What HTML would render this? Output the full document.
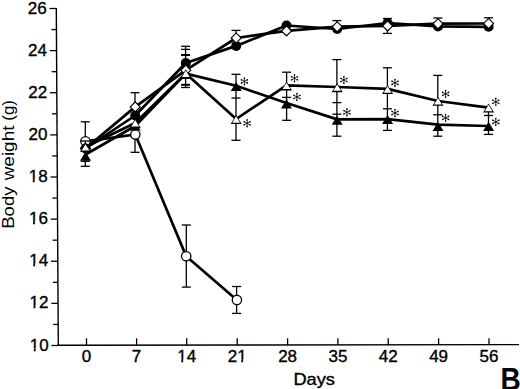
<!DOCTYPE html>
<html><head><meta charset="utf-8"><style>
html,body{margin:0;padding:0;background:#fff;}
body{width:520px;height:389px;overflow:hidden;}
svg{display:block;font-family:"Liberation Sans", sans-serif;}
text{fill:#000;stroke:#000;stroke-width:0.35px;}
text.b{stroke:none;}
</style></head><body>
<svg width="520" height="389" viewBox="0 0 520 389">
<rect width="520" height="389" fill="#fff"/>
<line x1="56.30" y1="7.9" x2="58.30" y2="346.1" stroke="#000" stroke-width="1.4"/>
<line x1="57.70" y1="345.3" x2="519" y2="344.6" stroke="#000" stroke-width="1.4"/>
<line x1="49.50" y1="8.50" x2="56.30" y2="8.50" stroke="#000" stroke-width="1.3"/>
<line x1="51.42" y1="29.56" x2="56.42" y2="29.56" stroke="#000" stroke-width="1.3"/>
<line x1="49.75" y1="50.62" x2="56.55" y2="50.62" stroke="#000" stroke-width="1.3"/>
<line x1="51.67" y1="71.69" x2="56.67" y2="71.69" stroke="#000" stroke-width="1.3"/>
<line x1="50.00" y1="92.75" x2="56.80" y2="92.75" stroke="#000" stroke-width="1.3"/>
<line x1="51.92" y1="113.81" x2="56.92" y2="113.81" stroke="#000" stroke-width="1.3"/>
<line x1="50.25" y1="134.88" x2="57.05" y2="134.88" stroke="#000" stroke-width="1.3"/>
<line x1="52.17" y1="155.94" x2="57.17" y2="155.94" stroke="#000" stroke-width="1.3"/>
<line x1="50.50" y1="177.00" x2="57.30" y2="177.00" stroke="#000" stroke-width="1.3"/>
<line x1="52.42" y1="198.06" x2="57.42" y2="198.06" stroke="#000" stroke-width="1.3"/>
<line x1="50.75" y1="219.12" x2="57.55" y2="219.12" stroke="#000" stroke-width="1.3"/>
<line x1="52.67" y1="240.19" x2="57.67" y2="240.19" stroke="#000" stroke-width="1.3"/>
<line x1="51.00" y1="261.25" x2="57.80" y2="261.25" stroke="#000" stroke-width="1.3"/>
<line x1="52.92" y1="282.31" x2="57.92" y2="282.31" stroke="#000" stroke-width="1.3"/>
<line x1="51.25" y1="303.38" x2="58.05" y2="303.38" stroke="#000" stroke-width="1.3"/>
<line x1="53.17" y1="324.44" x2="58.17" y2="324.44" stroke="#000" stroke-width="1.3"/>
<line x1="51.50" y1="345.50" x2="58.30" y2="345.50" stroke="#000" stroke-width="1.3"/>
<text x="48.60" y="350.60" text-anchor="end" font-size="17">10</text>
<rect x="30.09" y="348.00" width="3.65" height="3.9" fill="#fff"/>
<rect x="35.64" y="348.00" width="3.55" height="3.9" fill="#fff"/>
<text x="48.35" y="308.48" text-anchor="end" font-size="17">12</text>
<rect x="29.84" y="305.88" width="3.65" height="3.9" fill="#fff"/>
<rect x="35.39" y="305.88" width="3.55" height="3.9" fill="#fff"/>
<text x="48.10" y="266.35" text-anchor="end" font-size="17">14</text>
<rect x="29.59" y="263.75" width="3.65" height="3.9" fill="#fff"/>
<rect x="35.14" y="263.75" width="3.55" height="3.9" fill="#fff"/>
<text x="47.85" y="224.22" text-anchor="end" font-size="17">16</text>
<rect x="29.34" y="221.62" width="3.65" height="3.9" fill="#fff"/>
<rect x="34.89" y="221.62" width="3.55" height="3.9" fill="#fff"/>
<text x="47.60" y="182.10" text-anchor="end" font-size="17">18</text>
<rect x="29.09" y="179.50" width="3.65" height="3.9" fill="#fff"/>
<rect x="34.64" y="179.50" width="3.55" height="3.9" fill="#fff"/>
<text x="47.35" y="139.97" text-anchor="end" font-size="17">20</text>
<text x="47.10" y="97.85" text-anchor="end" font-size="17">22</text>
<text x="46.85" y="55.73" text-anchor="end" font-size="17">24</text>
<text x="46.60" y="13.60" text-anchor="end" font-size="17">26</text>
<line x1="86.50" y1="338.3" x2="86.50" y2="345" stroke="#000" stroke-width="1.3"/>
<text x="86.50" y="362.0" text-anchor="middle" font-size="17">0</text>
<line x1="136.60" y1="338.3" x2="136.60" y2="345" stroke="#000" stroke-width="1.3"/>
<text x="136.60" y="362.0" text-anchor="middle" font-size="17">7</text>
<line x1="186.70" y1="338.3" x2="186.70" y2="345" stroke="#000" stroke-width="1.3"/>
<text x="186.70" y="362.0" text-anchor="middle" font-size="17">14</text>
<rect x="177.65" y="359.40" width="3.65" height="3.9" fill="#fff"/>
<rect x="183.20" y="359.40" width="3.55" height="3.9" fill="#fff"/>
<line x1="237.20" y1="338.3" x2="237.20" y2="345" stroke="#000" stroke-width="1.3"/>
<text x="237.20" y="362.0" text-anchor="middle" font-size="17">21</text>
<rect x="237.60" y="359.40" width="3.65" height="3.9" fill="#fff"/>
<rect x="243.15" y="359.40" width="3.55" height="3.9" fill="#fff"/>
<line x1="287.60" y1="338.3" x2="287.60" y2="345" stroke="#000" stroke-width="1.3"/>
<text x="287.60" y="362.0" text-anchor="middle" font-size="17">28</text>
<line x1="337.90" y1="338.3" x2="337.90" y2="345" stroke="#000" stroke-width="1.3"/>
<text x="337.90" y="362.0" text-anchor="middle" font-size="17">35</text>
<line x1="388.20" y1="338.3" x2="388.20" y2="345" stroke="#000" stroke-width="1.3"/>
<text x="388.20" y="362.0" text-anchor="middle" font-size="17">42</text>
<line x1="438.60" y1="338.3" x2="438.60" y2="345" stroke="#000" stroke-width="1.3"/>
<text x="438.60" y="362.0" text-anchor="middle" font-size="17">49</text>
<line x1="489.00" y1="338.3" x2="489.00" y2="345" stroke="#000" stroke-width="1.3"/>
<text x="489.00" y="362.0" text-anchor="middle" font-size="17">56</text>
<text transform="translate(314.2,384.9) scale(1.1375,1)" text-anchor="middle" font-size="16">Days</text>
<text transform="translate(14.3,207.65) rotate(-90) scale(1.124,1)" text-anchor="middle" font-size="16.5" class="b">Body</text>
<text transform="translate(14.3,152.95) rotate(-90) scale(1.149,1)" text-anchor="middle" font-size="16.5" class="b">weight</text>
<text transform="translate(14.3,110.4) rotate(-90) scale(1.03,1)" text-anchor="middle" font-size="16.5" class="b">(g)</text>
<text transform="translate(520.6,390.3) scale(0.875,1)" text-anchor="end" font-size="32" font-weight="bold" class="b">B</text>
<polyline points="85.50,148.50 135.20,115.50 185.80,63.00 236.20,45.90 286.50,25.50 337.20,29.00 387.60,23.00 438.00,26.40 488.60,26.80" fill="none" stroke="#000" stroke-width="2.7" stroke-linejoin="round"/>
<polyline points="85.50,148.50 135.20,106.90 185.80,70.20 236.20,38.00 286.50,30.90 337.20,26.70 387.60,25.90 438.00,23.70 488.60,23.50" fill="none" stroke="#000" stroke-width="2.7" stroke-linejoin="round"/>
<polyline points="85.40,141.30 135.30,134.50 186.20,256.30 236.90,299.90" fill="none" stroke="#000" stroke-width="2.7" stroke-linejoin="round"/>
<polyline points="85.50,147.00 135.20,123.00 185.80,73.50 236.20,119.00 286.50,85.30 337.20,87.00 387.60,88.90 438.00,101.00 488.60,107.70" fill="none" stroke="#000" stroke-width="2.7" stroke-linejoin="round"/>
<polyline points="85.50,154.50 135.20,126.00 185.80,73.60 236.20,85.80 286.50,103.00 337.20,119.40 387.60,119.10 438.00,124.60 488.60,126.00" fill="none" stroke="#000" stroke-width="2.7" stroke-linejoin="round"/>
<line x1="85.30" y1="121.80" x2="85.30" y2="166.30" stroke="#000" stroke-width="1.3"/>
<line x1="80.80" y1="121.80" x2="89.80" y2="121.80" stroke="#000" stroke-width="1.3"/>
<line x1="80.80" y1="161.30" x2="89.80" y2="161.30" stroke="#000" stroke-width="1.3"/>
<line x1="80.80" y1="166.30" x2="89.80" y2="166.30" stroke="#000" stroke-width="1.3"/>
<line x1="135.00" y1="92.70" x2="135.00" y2="152.30" stroke="#000" stroke-width="1.3"/>
<line x1="130.50" y1="92.70" x2="139.50" y2="92.70" stroke="#000" stroke-width="1.3"/>
<line x1="130.50" y1="152.30" x2="139.50" y2="152.30" stroke="#000" stroke-width="1.3"/>
<line x1="185.60" y1="46.30" x2="185.60" y2="87.50" stroke="#000" stroke-width="1.3"/>
<line x1="181.10" y1="46.30" x2="190.10" y2="46.30" stroke="#000" stroke-width="1.3"/>
<line x1="181.10" y1="49.40" x2="190.10" y2="49.40" stroke="#000" stroke-width="1.3"/>
<line x1="181.10" y1="54.60" x2="190.10" y2="54.60" stroke="#000" stroke-width="1.3"/>
<line x1="181.10" y1="55.40" x2="190.10" y2="55.40" stroke="#000" stroke-width="1.3"/>
<line x1="181.10" y1="84.40" x2="190.10" y2="84.40" stroke="#000" stroke-width="1.3"/>
<line x1="181.10" y1="85.20" x2="190.10" y2="85.20" stroke="#000" stroke-width="1.3"/>
<line x1="181.10" y1="87.50" x2="190.10" y2="87.50" stroke="#000" stroke-width="1.3"/>
<line x1="236.00" y1="30.40" x2="236.00" y2="38.00" stroke="#000" stroke-width="1.3"/>
<line x1="231.50" y1="30.40" x2="240.50" y2="30.40" stroke="#000" stroke-width="1.3"/>
<line x1="236.00" y1="74.30" x2="236.00" y2="140.30" stroke="#000" stroke-width="1.3"/>
<line x1="231.50" y1="74.30" x2="240.50" y2="74.30" stroke="#000" stroke-width="1.3"/>
<line x1="231.50" y1="98.00" x2="240.50" y2="98.00" stroke="#000" stroke-width="1.3"/>
<line x1="231.50" y1="140.30" x2="240.50" y2="140.30" stroke="#000" stroke-width="1.3"/>
<line x1="186.30" y1="225.00" x2="186.30" y2="287.10" stroke="#000" stroke-width="1.3"/>
<line x1="181.80" y1="225.00" x2="190.80" y2="225.00" stroke="#000" stroke-width="1.3"/>
<line x1="181.80" y1="287.10" x2="190.80" y2="287.10" stroke="#000" stroke-width="1.3"/>
<line x1="236.60" y1="286.50" x2="236.60" y2="313.40" stroke="#000" stroke-width="1.3"/>
<line x1="232.10" y1="286.50" x2="241.10" y2="286.50" stroke="#000" stroke-width="1.3"/>
<line x1="232.10" y1="313.40" x2="241.10" y2="313.40" stroke="#000" stroke-width="1.3"/>
<line x1="286.60" y1="72.20" x2="286.60" y2="120.30" stroke="#000" stroke-width="1.3"/>
<line x1="282.10" y1="72.20" x2="291.10" y2="72.20" stroke="#000" stroke-width="1.3"/>
<line x1="282.10" y1="97.40" x2="291.10" y2="97.40" stroke="#000" stroke-width="1.3"/>
<line x1="282.10" y1="120.30" x2="291.10" y2="120.30" stroke="#000" stroke-width="1.3"/>
<line x1="336.90" y1="20.60" x2="336.90" y2="27.00" stroke="#000" stroke-width="1.3"/>
<line x1="332.40" y1="20.60" x2="341.40" y2="20.60" stroke="#000" stroke-width="1.3"/>
<line x1="336.90" y1="59.60" x2="336.90" y2="136.20" stroke="#000" stroke-width="1.3"/>
<line x1="332.40" y1="59.60" x2="341.40" y2="59.60" stroke="#000" stroke-width="1.3"/>
<line x1="332.40" y1="102.60" x2="341.40" y2="102.60" stroke="#000" stroke-width="1.3"/>
<line x1="332.40" y1="114.20" x2="341.40" y2="114.20" stroke="#000" stroke-width="1.3"/>
<line x1="332.40" y1="136.20" x2="341.40" y2="136.20" stroke="#000" stroke-width="1.3"/>
<line x1="387.40" y1="18.50" x2="387.40" y2="33.40" stroke="#000" stroke-width="1.3"/>
<line x1="382.90" y1="18.50" x2="391.90" y2="18.50" stroke="#000" stroke-width="1.3"/>
<line x1="382.90" y1="33.40" x2="391.90" y2="33.40" stroke="#000" stroke-width="1.3"/>
<line x1="387.40" y1="67.80" x2="387.40" y2="130.40" stroke="#000" stroke-width="1.3"/>
<line x1="382.90" y1="67.80" x2="391.90" y2="67.80" stroke="#000" stroke-width="1.3"/>
<line x1="382.90" y1="108.80" x2="391.90" y2="108.80" stroke="#000" stroke-width="1.3"/>
<line x1="382.90" y1="130.40" x2="391.90" y2="130.40" stroke="#000" stroke-width="1.3"/>
<line x1="437.90" y1="18.00" x2="437.90" y2="27.00" stroke="#000" stroke-width="1.3"/>
<line x1="433.40" y1="18.00" x2="442.40" y2="18.00" stroke="#000" stroke-width="1.3"/>
<line x1="437.80" y1="75.40" x2="437.80" y2="136.20" stroke="#000" stroke-width="1.3"/>
<line x1="433.30" y1="75.40" x2="442.30" y2="75.40" stroke="#000" stroke-width="1.3"/>
<line x1="433.30" y1="114.80" x2="442.30" y2="114.80" stroke="#000" stroke-width="1.3"/>
<line x1="433.30" y1="136.20" x2="442.30" y2="136.20" stroke="#000" stroke-width="1.3"/>
<line x1="488.60" y1="17.80" x2="488.60" y2="27.00" stroke="#000" stroke-width="1.3"/>
<line x1="484.10" y1="17.80" x2="493.10" y2="17.80" stroke="#000" stroke-width="1.3"/>
<line x1="488.50" y1="108.00" x2="488.50" y2="134.40" stroke="#000" stroke-width="1.3"/>
<line x1="484.00" y1="115.50" x2="493.00" y2="115.50" stroke="#000" stroke-width="1.3"/>
<line x1="484.00" y1="134.40" x2="493.00" y2="134.40" stroke="#000" stroke-width="1.3"/>
<circle cx="85.40" cy="141.30" r="5.3" fill="#000"/><circle cx="85.40" cy="141.30" r="4.0" fill="#fff"/>
<circle cx="135.30" cy="134.50" r="5.3" fill="#000"/><circle cx="135.30" cy="134.50" r="4.0" fill="#fff"/>
<circle cx="186.20" cy="256.30" r="5.3" fill="#000"/><circle cx="186.20" cy="256.30" r="4.0" fill="#fff"/>
<circle cx="236.90" cy="299.90" r="5.3" fill="#000"/><circle cx="236.90" cy="299.90" r="4.0" fill="#fff"/>
<path d="M85.50,142.70 L91.30,148.50 L85.50,154.30 L79.70,148.50 Z" fill="#000"/><path d="M85.50,144.30 L89.70,148.50 L85.50,152.70 L81.30,148.50 Z" fill="#fff"/>
<circle cx="85.50" cy="148.50" r="5.0" fill="#000"/>
<circle cx="135.20" cy="115.50" r="5.0" fill="#000"/>
<circle cx="185.80" cy="63.00" r="5.0" fill="#000"/>
<circle cx="236.20" cy="45.90" r="5.0" fill="#000"/>
<circle cx="286.50" cy="25.50" r="5.0" fill="#000"/>
<circle cx="337.20" cy="29.00" r="5.0" fill="#000"/>
<circle cx="387.60" cy="23.00" r="5.0" fill="#000"/>
<circle cx="438.00" cy="26.40" r="5.0" fill="#000"/>
<circle cx="488.60" cy="26.80" r="5.0" fill="#000"/>
<path d="M135.20,101.10 L141.00,106.90 L135.20,112.70 L129.40,106.90 Z" fill="#000"/><path d="M135.20,102.70 L139.40,106.90 L135.20,111.10 L131.00,106.90 Z" fill="#fff"/>
<path d="M185.80,64.40 L191.60,70.20 L185.80,76.00 L180.00,70.20 Z" fill="#000"/><path d="M185.80,66.00 L190.00,70.20 L185.80,74.40 L181.60,70.20 Z" fill="#fff"/>
<path d="M236.20,32.20 L242.00,38.00 L236.20,43.80 L230.40,38.00 Z" fill="#000"/><path d="M236.20,33.80 L240.40,38.00 L236.20,42.20 L232.00,38.00 Z" fill="#fff"/>
<path d="M286.50,25.10 L292.30,30.90 L286.50,36.70 L280.70,30.90 Z" fill="#000"/><path d="M286.50,26.70 L290.70,30.90 L286.50,35.10 L282.30,30.90 Z" fill="#fff"/>
<path d="M337.20,20.90 L343.00,26.70 L337.20,32.50 L331.40,26.70 Z" fill="#000"/><path d="M337.20,22.50 L341.40,26.70 L337.20,30.90 L333.00,26.70 Z" fill="#fff"/>
<path d="M387.60,20.10 L393.40,25.90 L387.60,31.70 L381.80,25.90 Z" fill="#000"/><path d="M387.60,21.70 L391.80,25.90 L387.60,30.10 L383.40,25.90 Z" fill="#fff"/>
<path d="M438.00,17.90 L443.80,23.70 L438.00,29.50 L432.20,23.70 Z" fill="#000"/><path d="M438.00,19.50 L442.20,23.70 L438.00,27.90 L433.80,23.70 Z" fill="#fff"/>
<path d="M488.60,17.70 L494.40,23.50 L488.60,29.30 L482.80,23.50 Z" fill="#000"/><path d="M488.60,19.30 L492.80,23.50 L488.60,27.70 L484.40,23.50 Z" fill="#fff"/>
<line x1="80.70" y1="141.0" x2="89.90" y2="141.0" stroke="#000" stroke-width="1.3"/>
<line x1="85.3" y1="141" x2="85.3" y2="146" stroke="#000" stroke-width="1.3"/>
<path d="M85.50,151.70 L91.00,160.80 L80.00,160.80 Z" fill="#000"/>
<path d="M135.20,121.40 L140.70,130.50 L129.70,130.50 Z" fill="#000"/>
<path d="M185.80,70.00 L191.30,79.10 L180.30,79.10 Z" fill="#000"/>
<path d="M236.20,82.00 L241.70,91.10 L230.70,91.10 Z" fill="#000"/>
<path d="M286.50,99.30 L292.00,108.40 L281.00,108.40 Z" fill="#000"/>
<path d="M337.20,115.70 L342.70,124.80 L331.70,124.80 Z" fill="#000"/>
<path d="M387.60,115.00 L393.10,124.10 L382.10,124.10 Z" fill="#000"/>
<path d="M438.00,122.00 L443.50,131.10 L432.50,131.10 Z" fill="#000"/>
<path d="M488.60,121.80 L494.10,130.90 L483.10,130.90 Z" fill="#000"/>
<path d="M85.50,142.90 L91.00,152.00 L80.00,152.00 Z" fill="#000"/>
<path d="M85.50,144.20 L89.40,150.60 L81.60,150.60 Z" fill="#fff"/>
<path d="M135.20,118.80 L140.70,127.90 L129.70,127.90 Z" fill="#000"/>
<path d="M135.20,120.10 L139.10,126.50 L131.30,126.50 Z" fill="#fff"/>
<path d="M185.80,69.20 L191.30,78.30 L180.30,78.30 Z" fill="#000"/>
<path d="M185.80,70.50 L189.70,76.90 L181.90,76.90 Z" fill="#fff"/>
<path d="M236.20,115.00 L241.70,124.10 L230.70,124.10 Z" fill="#000"/>
<path d="M236.20,116.30 L240.10,122.70 L232.30,122.70 Z" fill="#fff"/>
<path d="M286.50,81.40 L292.00,90.50 L281.00,90.50 Z" fill="#000"/>
<path d="M286.50,82.70 L290.40,89.10 L282.60,89.10 Z" fill="#fff"/>
<path d="M337.20,83.10 L342.70,92.20 L331.70,92.20 Z" fill="#000"/>
<path d="M337.20,84.40 L341.10,90.80 L333.30,90.80 Z" fill="#fff"/>
<path d="M387.60,85.00 L393.10,94.10 L382.10,94.10 Z" fill="#000"/>
<path d="M387.60,86.30 L391.50,92.70 L383.70,92.70 Z" fill="#fff"/>
<path d="M438.00,96.70 L443.50,105.80 L432.50,105.80 Z" fill="#000"/>
<path d="M438.00,98.00 L441.90,104.40 L434.10,104.40 Z" fill="#fff"/>
<path d="M488.60,103.50 L494.10,112.60 L483.10,112.60 Z" fill="#000"/>
<path d="M488.60,104.80 L492.50,111.20 L484.70,111.20 Z" fill="#fff"/>
<path d="M244.40,81.40 L244.40,77.70 M244.40,81.40 L247.67,79.66 M244.40,81.40 L247.67,83.14 M244.40,81.40 L241.13,79.66 M244.40,81.40 L241.13,83.14 M244.40,81.40 L244.40,85.10 " stroke="#000" stroke-width="0.75" stroke-linecap="round" fill="none"/><circle cx="244.40" cy="78.18" r="0.8"/><circle cx="247.24" cy="79.89" r="0.8"/><circle cx="247.24" cy="82.91" r="0.8"/><circle cx="241.56" cy="79.89" r="0.8"/><circle cx="241.56" cy="82.91" r="0.8"/><circle cx="244.40" cy="84.62" r="0.8"/>
<path d="M247.10,123.30 L247.10,119.60 M247.10,123.30 L250.37,121.56 M247.10,123.30 L250.37,125.04 M247.10,123.30 L243.83,121.56 M247.10,123.30 L243.83,125.04 M247.10,123.30 L247.10,127.00 " stroke="#000" stroke-width="0.75" stroke-linecap="round" fill="none"/><circle cx="247.10" cy="120.08" r="0.8"/><circle cx="249.94" cy="121.79" r="0.8"/><circle cx="249.94" cy="124.81" r="0.8"/><circle cx="244.26" cy="121.79" r="0.8"/><circle cx="244.26" cy="124.81" r="0.8"/><circle cx="247.10" cy="126.52" r="0.8"/>
<path d="M294.50,78.30 L294.50,74.60 M294.50,78.30 L297.77,76.56 M294.50,78.30 L297.77,80.04 M294.50,78.30 L291.23,76.56 M294.50,78.30 L291.23,80.04 M294.50,78.30 L294.50,82.00 " stroke="#000" stroke-width="0.75" stroke-linecap="round" fill="none"/><circle cx="294.50" cy="75.08" r="0.8"/><circle cx="297.34" cy="76.79" r="0.8"/><circle cx="297.34" cy="79.81" r="0.8"/><circle cx="291.66" cy="76.79" r="0.8"/><circle cx="291.66" cy="79.81" r="0.8"/><circle cx="294.50" cy="81.52" r="0.8"/>
<path d="M296.90,97.00 L296.90,93.30 M296.90,97.00 L300.17,95.26 M296.90,97.00 L300.17,98.74 M296.90,97.00 L293.63,95.26 M296.90,97.00 L293.63,98.74 M296.90,97.00 L296.90,100.70 " stroke="#000" stroke-width="0.75" stroke-linecap="round" fill="none"/><circle cx="296.90" cy="93.78" r="0.8"/><circle cx="299.74" cy="95.49" r="0.8"/><circle cx="299.74" cy="98.51" r="0.8"/><circle cx="294.06" cy="95.49" r="0.8"/><circle cx="294.06" cy="98.51" r="0.8"/><circle cx="296.90" cy="100.22" r="0.8"/>
<path d="M343.90,80.00 L343.90,76.30 M343.90,80.00 L347.17,78.26 M343.90,80.00 L347.17,81.74 M343.90,80.00 L340.63,78.26 M343.90,80.00 L340.63,81.74 M343.90,80.00 L343.90,83.70 " stroke="#000" stroke-width="0.75" stroke-linecap="round" fill="none"/><circle cx="343.90" cy="76.78" r="0.8"/><circle cx="346.74" cy="78.49" r="0.8"/><circle cx="346.74" cy="81.51" r="0.8"/><circle cx="341.06" cy="78.49" r="0.8"/><circle cx="341.06" cy="81.51" r="0.8"/><circle cx="343.90" cy="83.22" r="0.8"/>
<path d="M346.90,112.30 L346.90,108.60 M346.90,112.30 L350.17,110.56 M346.90,112.30 L350.17,114.04 M346.90,112.30 L343.63,110.56 M346.90,112.30 L343.63,114.04 M346.90,112.30 L346.90,116.00 " stroke="#000" stroke-width="0.75" stroke-linecap="round" fill="none"/><circle cx="346.90" cy="109.08" r="0.8"/><circle cx="349.74" cy="110.79" r="0.8"/><circle cx="349.74" cy="113.81" r="0.8"/><circle cx="344.06" cy="110.79" r="0.8"/><circle cx="344.06" cy="113.81" r="0.8"/><circle cx="346.90" cy="115.52" r="0.8"/>
<path d="M395.00,82.90 L395.00,79.20 M395.00,82.90 L398.27,81.16 M395.00,82.90 L398.27,84.64 M395.00,82.90 L391.73,81.16 M395.00,82.90 L391.73,84.64 M395.00,82.90 L395.00,86.60 " stroke="#000" stroke-width="0.75" stroke-linecap="round" fill="none"/><circle cx="395.00" cy="79.68" r="0.8"/><circle cx="397.84" cy="81.39" r="0.8"/><circle cx="397.84" cy="84.41" r="0.8"/><circle cx="392.16" cy="81.39" r="0.8"/><circle cx="392.16" cy="84.41" r="0.8"/><circle cx="395.00" cy="86.12" r="0.8"/>
<path d="M395.00,113.00 L395.00,109.30 M395.00,113.00 L398.27,111.26 M395.00,113.00 L398.27,114.74 M395.00,113.00 L391.73,111.26 M395.00,113.00 L391.73,114.74 M395.00,113.00 L395.00,116.70 " stroke="#000" stroke-width="0.75" stroke-linecap="round" fill="none"/><circle cx="395.00" cy="109.78" r="0.8"/><circle cx="397.84" cy="111.49" r="0.8"/><circle cx="397.84" cy="114.51" r="0.8"/><circle cx="392.16" cy="111.49" r="0.8"/><circle cx="392.16" cy="114.51" r="0.8"/><circle cx="395.00" cy="116.22" r="0.8"/>
<path d="M445.60,93.90 L445.60,90.20 M445.60,93.90 L448.87,92.16 M445.60,93.90 L448.87,95.64 M445.60,93.90 L442.33,92.16 M445.60,93.90 L442.33,95.64 M445.60,93.90 L445.60,97.60 " stroke="#000" stroke-width="0.75" stroke-linecap="round" fill="none"/><circle cx="445.60" cy="90.68" r="0.8"/><circle cx="448.44" cy="92.39" r="0.8"/><circle cx="448.44" cy="95.41" r="0.8"/><circle cx="442.76" cy="92.39" r="0.8"/><circle cx="442.76" cy="95.41" r="0.8"/><circle cx="445.60" cy="97.12" r="0.8"/>
<path d="M445.60,117.90 L445.60,114.20 M445.60,117.90 L448.87,116.16 M445.60,117.90 L448.87,119.64 M445.60,117.90 L442.33,116.16 M445.60,117.90 L442.33,119.64 M445.60,117.90 L445.60,121.60 " stroke="#000" stroke-width="0.75" stroke-linecap="round" fill="none"/><circle cx="445.60" cy="114.68" r="0.8"/><circle cx="448.44" cy="116.39" r="0.8"/><circle cx="448.44" cy="119.41" r="0.8"/><circle cx="442.76" cy="116.39" r="0.8"/><circle cx="442.76" cy="119.41" r="0.8"/><circle cx="445.60" cy="121.12" r="0.8"/>
<path d="M495.80,101.80 L495.80,98.10 M495.80,101.80 L499.07,100.06 M495.80,101.80 L499.07,103.54 M495.80,101.80 L492.53,100.06 M495.80,101.80 L492.53,103.54 M495.80,101.80 L495.80,105.50 " stroke="#000" stroke-width="0.75" stroke-linecap="round" fill="none"/><circle cx="495.80" cy="98.58" r="0.8"/><circle cx="498.64" cy="100.29" r="0.8"/><circle cx="498.64" cy="103.31" r="0.8"/><circle cx="492.96" cy="100.29" r="0.8"/><circle cx="492.96" cy="103.31" r="0.8"/><circle cx="495.80" cy="105.02" r="0.8"/>
<path d="M495.80,121.90 L495.80,118.20 M495.80,121.90 L499.07,120.16 M495.80,121.90 L499.07,123.64 M495.80,121.90 L492.53,120.16 M495.80,121.90 L492.53,123.64 M495.80,121.90 L495.80,125.60 " stroke="#000" stroke-width="0.75" stroke-linecap="round" fill="none"/><circle cx="495.80" cy="118.68" r="0.8"/><circle cx="498.64" cy="120.39" r="0.8"/><circle cx="498.64" cy="123.41" r="0.8"/><circle cx="492.96" cy="120.39" r="0.8"/><circle cx="492.96" cy="123.41" r="0.8"/><circle cx="495.80" cy="125.12" r="0.8"/>
</svg>
</body></html>
